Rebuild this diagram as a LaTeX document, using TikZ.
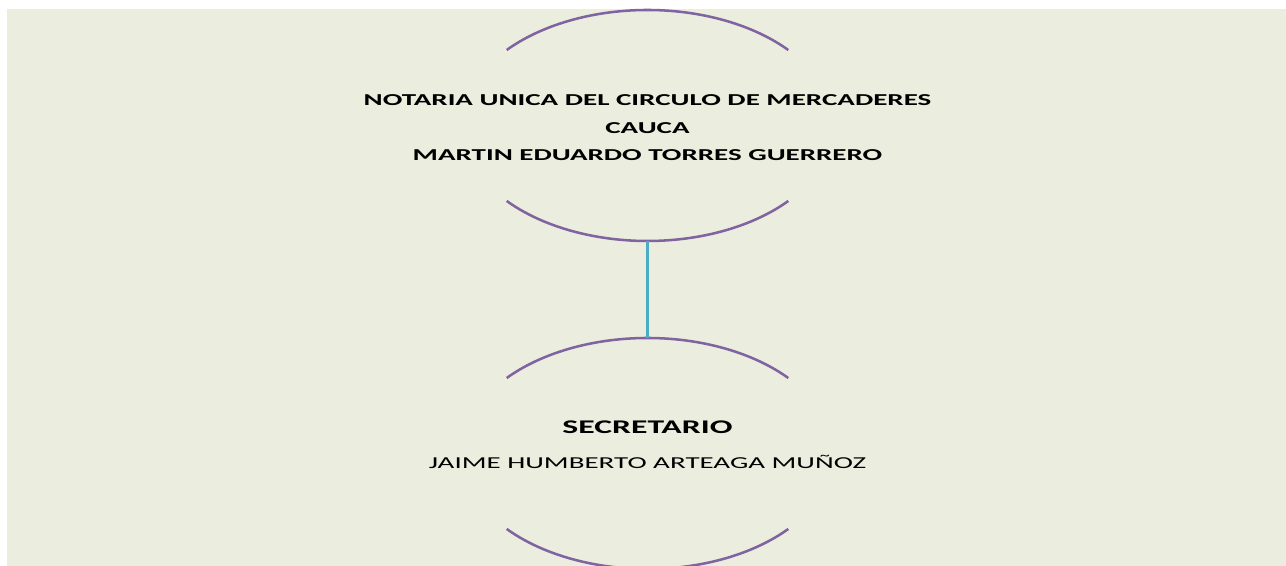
\documentclass[tikz,border=0pt]{standalone}
\usepackage{fontspec}
\setmainfont[FakeStretch=1.74]{Carlito}
\usepackage{tikz}
\usetikzlibrary{shapes.geometric, positioning}
\definecolor{SABack}{RGB}{235,238,222}
\definecolor{SAPurple}{RGB}{128,100,162}
\definecolor{SACyan}{RGB}{75,172,198}

\begin{document}
\begin{tikzpicture}[x=0.75pt, y=0.75pt,
    oval/.style={ellipse, inner sep=0pt, outer sep=0pt,
                 minimum width=279pt, minimum height=173.25pt},
    arcline/.style={SAPurple, line width=1.9pt},
    link/.style={SACyan, line width=2.2pt},
    title/.style={font=\bfseries\fontsize{12.5}{20.6}\selectfont, align=center},
    head/.style={font=\bfseries\fontsize{14.5}{17}\selectfont},
    person/.style={font=\fontsize{12.5}{15}\selectfont}
  ]
  \useasboundingbox (0,0) rectangle (1286,566);
  \fill[SABack] (7,0) rectangle (1286,557);

  \node[oval] (notaria)    at (647.5, 440.5) {};
  \node[oval] (secretario) at (647.5, 112.5) {};

  \node[title] (notariatxt) at (647.5, 438)
    {NOTARIA UNICA DEL CIRCULO DE MERCADERES\\CAUCA\\MARTIN EDUARDO TORRES GUERRERO};
  \node[head] (secretariotxt) at (647.5, 139) {SECRETARIO};
  \node[person, below=9pt of secretariotxt] (nombre) {JAIME HUMBERTO ARTEAGA MUÑOZ};

  % arcs of the two ovals
  \foreach \o in {notaria, secretario} {
    \draw[arcline] ([shift={(40.8:186 and 115.5)}]\o.center)
      arc[start angle=40.8, end angle=139.2, x radius=186, y radius=115.5];
    \draw[arcline] ([shift={(220.8:186 and 115.5)}]\o.center)
      arc[start angle=220.8, end angle=319.2, x radius=186, y radius=115.5];
  }

  \draw[link] (notaria) -- (secretario);
\end{tikzpicture}
\end{document}
